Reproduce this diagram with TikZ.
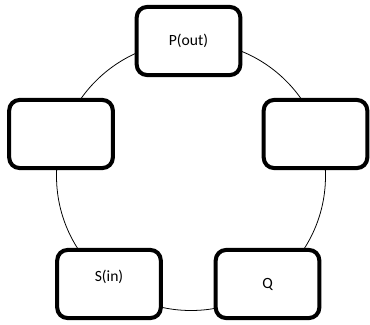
\documentclass[tikz,border=0pt]{standalone}
\usepackage{fontspec}
\setmainfont{Carlito}
\usepackage{tikz}
\tikzset{stagebox/.style={draw=black,line width=3.1pt,rounded corners=0.28cm,fill=white,minimum width=2.8cm,minimum height=1.84cm,inner sep=0pt,font=\fontsize{12}{14}\selectfont}}

\begin{document}
\begin{tikzpicture}[line cap=round,line join=round,x=1.0cm,y=1.0cm]
      \useasboundingbox (0,0) rectangle (10,8.757);
      \draw[color=black,line width=0.6pt] (5.162,4.0) circle (3.635);
      \node[stagebox] (pout) at (5.095,7.649) {P(out)};
      \node[stagebox] (west) at (1.649,5.135) {};
      \node[stagebox] (east) at (8.527,5.135) {};
      \node[stagebox,text depth=0.43cm] (sin) at (2.946,1.081) {S(in)};
      \node[stagebox] (q) at (7.230,1.081) {Q};
    \end{tikzpicture}
\end{document}
